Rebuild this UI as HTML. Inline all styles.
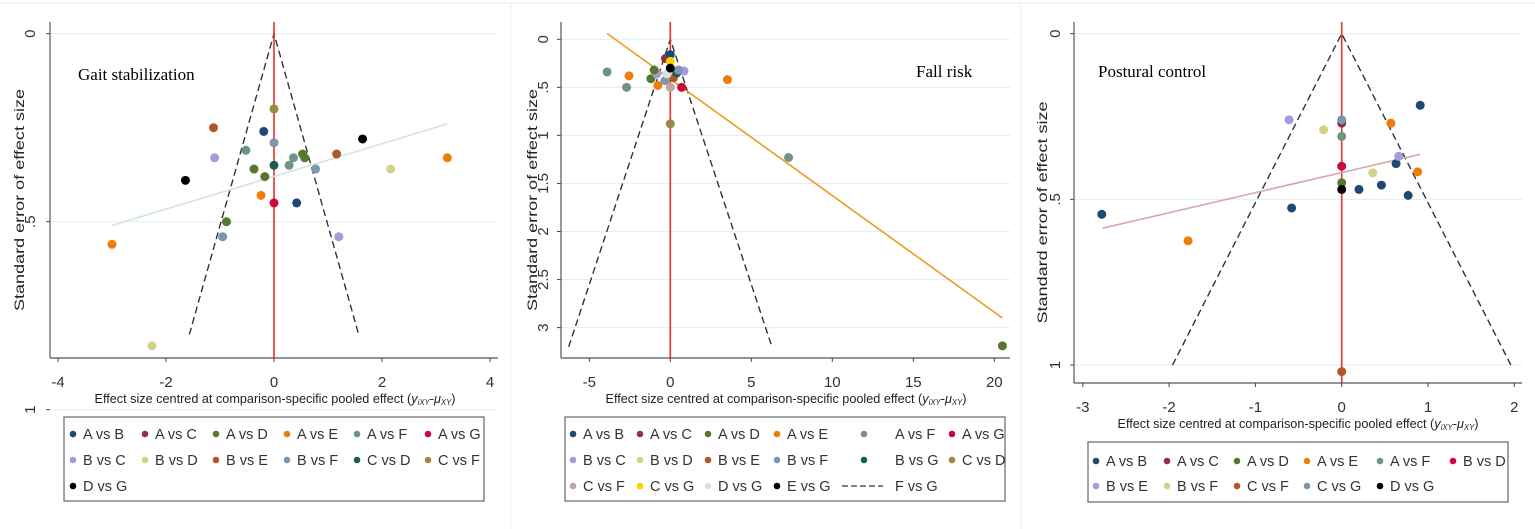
<!DOCTYPE html>
<html><head><meta charset="utf-8"><style>
body{margin:0;background:#fff;width:1535px;height:529px;overflow:hidden;font-family:"Liberation Sans",sans-serif}
svg{display:block}
</style></head><body>
<svg id="fig" width="1535" height="529" xmlns="http://www.w3.org/2000/svg"></svg>
<script>
// ---- colours per comparison (per panel legend order) ----
const p1Legend = ["A vs B","A vs C","A vs D","A vs E","A vs F","A vs G","B vs C","B vs D","B vs E","B vs F","C vs D","C vs F","D vs G"];
const p1Colors = ["#1d4a73","#8e3340","#55782c","#ee7d0c","#6e9486","#cc0a3a","#a49ae0","#d4d088","#b3562a","#7b96ad","#1a5e55","#9b8a43","#000000"];
const p2Legend = ["A vs B","A vs C","A vs D","A vs E","A vs F","A vs G","B vs C","B vs D","B vs E","B vs F","B vs G","C vs D","C vs F","C vs G","D vs G","E vs G","F vs G"];
const p2Colors = ["#1d4a73","#8e3340","#55782c","#ee7d0c","#6e9486","#cc0a3a","#a49ae0","#d4d088","#b3562a","#7b96ad","#1a5e55","#9b8a43","#c4a49e","#ffd000","#d4e2ec","#000000","#333333"];
const p3Legend = ["A vs B","A vs C","A vs D","A vs E","A vs F","B vs D","B vs E","B vs F","C vs F","C vs G","D vs G"];
const p3Colors = ["#1d4a73","#8e3340","#55782c","#ee7d0c","#6e9486","#cc0a3a","#a49ae0","#d4d088","#b3562a","#7b96ad","#000000"];

// ---- Panel 1: Gait stabilization ----
const p1Groups = ["B vs E","A vs B","C vs F","B vs F","A vs F","B vs C","A vs D","A vs D","A vs F","A vs F","C vs D","B vs E","D vs G","D vs G","B vs D","B vs D","A vs E","A vs E","A vs E","B vs F","B vs F","A vs D","A vs D","A vs D","A vs G","A vs B","B vs C"];
const p1X = [-1.12,-0.19,0,0,-0.52,-1.1,0.53,0.57,0.36,0.28,0,1.16,1.64,-1.64,2.16,-2.26,3.21,-0.24,-3.0,0.77,-0.95,-0.37,-0.17,-0.88,0,0.42,1.2];
const p1Y = [0.25,0.26,0.20,0.29,0.31,0.33,0.32,0.33,0.33,0.35,0.35,0.32,0.28,0.39,0.36,0.83,0.33,0.43,0.56,0.36,0.54,0.36,0.38,0.50,0.45,0.45,0.54];
const p1XTicks = [-4,-2,0,2,4];
const p1YTicks = [0,0.5,1];
const p1YLabels = ["0",".5","1"];
const p1Fit = [[-3.0,0.51],[3.21,0.24]];

// ---- Panel 2: Fall risk ----
const p2Groups = ["A vs F","A vs E","A vs F","A vs D","A vs E","A vs E","A vs F","A vs D","C vs D","A vs G","B vs C","A vs C","B vs C","A vs D","B vs E","B vs F","D vs G","C vs F","B vs G","B vs F","A vs B","C vs G","E vs G"];
const p2X = [-3.9,-2.55,-2.7,-1.2,-0.77,3.53,7.3,20.5,0,0.7,0.84,-0.3,-0.84,-1.0,0.2,-0.33,-0.2,0,0.4,0.5,0,0,0];
const p2Y = [0.34,0.38,0.50,0.41,0.48,0.42,1.23,3.19,0.88,0.50,0.33,0.20,0.36,0.32,0.40,0.43,0.36,0.50,0.35,0.32,0.16,0.23,0.30];
const p2XTicks = [-5,0,5,10,15,20];
const p2YTicks = [0,0.5,1,1.5,2,2.5,3];
const p2YLabels = ["0",".5","1","1.5","2","2.5","3"];
const p2Fit = [[-3.9,-0.06],[20.5,2.9]];

// ---- Panel 3: Postural control ----
const p3Groups = ["A vs B","A vs B","A vs B","A vs B","A vs B","A vs B","A vs B","A vs E","A vs E","A vs E","B vs E","B vs E","B vs F","B vs F","A vs C","C vs G","A vs F","B vs D","A vs D","D vs G","C vs F"];
const p3X = [-2.78,-0.58,0.91,0.2,0.46,0.77,0.63,-1.78,0.57,0.88,-0.61,0.66,-0.21,0.36,0,0,0,0,0,0,0];
const p3Y = [0.545,0.526,0.216,0.47,0.457,0.488,0.392,0.625,0.27,0.417,0.26,0.37,0.29,0.42,0.27,0.26,0.31,0.40,0.45,0.47,1.02];
const p3XTicks = [-3,-2,-1,0,1,2];
const p3YTicks = [0,0.5,1];
const p3YLabels = ["0",".5","1"];
const p3Fit = [[-2.77,0.587],[0.91,0.364]];

const NS="http://www.w3.org/2000/svg";
const svg=document.getElementById('fig');
function mk(tag,attrs,parent,text){const e=document.createElementNS(NS,tag);for(const k in attrs)e.setAttribute(k,attrs[k]);if(text!==undefined)e.textContent=text;(parent||svg).appendChild(e);return e;}

const panels=[
 {name:"gait-stabilization",title:"Gait stabilization",groups:p1Groups,xs:p1X,ys:p1Y,xt:p1XTicks,yt:p1YTicks,yl:p1YLabels,fit:p1Fit,fitColor:"#cfe3ea",legend:p1Legend,colors:p1Colors,
  L:50,R:498,B:358,T:22,x0:274,xu:54,y0:33.7,yu:376,funnelSe:0.8,yLabX:35,xLabY:387,xTitleY:403,xTitleX:275,yTitleX:24,
  titleX:78,titleY:80,lg:{x:64,y:417,w:420,h:84,rows:[434,460,486],cols:[73,145,216,287,357,428],tx:[83,155,226,297,367,438]}},
 {name:"fall-risk",title:"Fall risk",groups:p2Groups,xs:p2X,ys:p2Y,xt:p2XTicks,yt:p2YTicks,yl:p2YLabels,fit:p2Fit,fitColor:"#ee9a20",legend:p2Legend,colors:p2Colors,
  L:561,R:1010,B:358,T:22,x0:670.3,xu:16.2,y0:39.3,yu:96.1,funnelSe:3.2,yLabX:548,xLabY:387,xTitleY:403,xTitleX:786,yTitleX:537,
  titleX:916,titleY:77,lg:{x:565,y:417,w:440,h:84,rows:[434,460,486],cols:[573,640,708,777,864,952],tx:[583,650,718,787,895,962]}},
 {name:"postural-control",title:"Postural control",groups:p3Groups,xs:p3X,ys:p3Y,xt:p3XTicks,yt:p3YTicks,yl:p3YLabels,fit:p3Fit,fitColor:"#d4a8a8",legend:p3Legend,colors:p3Colors,
  L:1074,R:1522,B:383,T:22,x0:1341.7,xu:86.3,y0:33.7,yu:331.3,funnelSe:1.0,yLabX:1060,xLabY:412,xTitleY:428,xTitleX:1298,yTitleX:1047,
  titleX:1098,titleY:77,lg:{x:1088,y:442,w:420,h:60,rows:[461,486],cols:[1096,1167,1237,1307,1380,1453],tx:[1106,1177,1247,1317,1390,1463]}}
];

mk('line',{x1:0,y1:3,x2:1535,y2:3,stroke:"#e4e8ea","stroke-width":1,});
mk('line',{x1:511,y1:3,x2:511,y2:529,stroke:"#eceff0","stroke-width":1,});
mk('line',{x1:1021,y1:3,x2:1021,y2:529,stroke:"#eceff0","stroke-width":1,});

panels.forEach((p,pi)=>{
  const g=mk('g',{});
  
  
  const X=v=>p.x0+v*p.xu, Y=v=>p.y0+v*p.yu;
  const col=name=>p.colors[p.legend.indexOf(name)];
  p.yt.forEach((t,i)=>{
    const gl=mk('line',{x1:p.L,x2:p.R,y1:Y(t),y2:Y(t),stroke:"#e6f0f2","stroke-width":1.2},g);
    
    
    const tk=mk('line',{x1:p.L-4,x2:p.L,y1:Y(t),y2:Y(t),stroke:"#444","stroke-width":1},g);
    
    
    const tl=mk('text',{x:p.yLabX,y:Y(t),'font-size':15,fill:"#333",'text-anchor':'middle',transform:`rotate(-90 ${p.yLabX} ${Y(t)})`},g,p.yl[i]);
    
    
  });
  const ya=mk('line',{x1:p.L,x2:p.L,y1:p.T,y2:p.B,stroke:"#555","stroke-width":1.2},g);
  
  const xa=mk('line',{x1:p.L,x2:p.R,y1:p.B,y2:p.B,stroke:"#555","stroke-width":1.2},g);
  
  p.xt.forEach(t=>{
    const tk=mk('line',{x1:X(t),x2:X(t),y1:p.B,y2:p.B+4,stroke:"#444","stroke-width":1},g);
    
    const tl=mk('text',{x:X(t),y:p.xLabY,'font-size':15,fill:"#333",'text-anchor':'middle'},g,String(t));
    
  });
  const fse=p.funnelSe, fx=1.96*fse;
  const fl=mk('path',{d:`M${X(-fx)} ${Y(fse)} L${X(0)} ${Y(0)} L${X(fx)} ${Y(fse)}`,fill:'none',stroke:'#333','stroke-width':1.4,'stroke-dasharray':'7 4'},g);
  
  const rl=mk('line',{x1:X(0),x2:X(0),y1:p.T,y2:p.B,stroke:'#e8302a','stroke-width':1.6},g);
  
  const ft=mk('line',{x1:X(p.fit[0][0]),y1:Y(p.fit[0][1]),x2:X(p.fit[1][0]),y2:Y(p.fit[1][1]),stroke:p.fitColor,'stroke-width':1.6},g);
  
  p.xs.forEach((v,i)=>{
    const c=mk('circle',{cx:X(v),cy:Y(p.ys[i]),r:4.5,fill:col(p.groups[i])},g);
    
    
  });
  const tt=mk('text',{x:p.titleX,y:p.titleY,'font-size':17,'font-family':'"Liberation Serif",serif',fill:'#000'},g,p.title);
  
  const xt=mk('text',{x:p.xTitleX,y:p.xTitleY,'font-size':13,fill:'#222','text-anchor':'middle',textLength:361,lengthAdjust:'spacingAndGlyphs'},g);
  xt.innerHTML='Effect size centred at comparison-specific pooled effect (<tspan font-style="italic">y</tspan><tspan font-size="8" font-style="italic" dy="2">iXY</tspan><tspan dy="-2">-</tspan><tspan font-style="italic">μ</tspan><tspan font-size="8" font-style="italic" dy="2">XY</tspan><tspan dy="-2">)</tspan>';
  
  const cy=(p.T+p.B)/2+10;
  const yt=mk('text',{x:p.yTitleX,y:cy,'font-size':14,fill:'#222','text-anchor':'middle',transform:`rotate(-90 ${p.yTitleX} ${cy})`,textLength:222,lengthAdjust:'spacingAndGlyphs'},g,'Standard error of effect size');
  
  const lg=p.lg;
  const lb=mk('rect',{x:lg.x,y:lg.y,width:lg.w,height:lg.h,fill:'#fff',stroke:'#666','stroke-width':1.2},g);
  
  p.legend.forEach((name,i)=>{
    const r=Math.floor(i/6), c=i%6;
    const ly=lg.rows[r];
    if(name==="F vs G"){
      const d=mk('line',{x1:842,x2:883,y1:ly,y2:ly,stroke:'#333','stroke-width':1.3,'stroke-dasharray':'6 3'},g);
      
      const t=mk('text',{x:895,y:ly+5,'font-size':14.5,fill:'#333'},g,name);
      
      return;
    }
    const m=mk('circle',{cx:lg.cols[c],cy:ly,r:3.3,fill:col(name)},g);
    
    const t=mk('text',{x:lg.tx[c],y:ly+5,'font-size':14.5,fill:'#333'},g,name);
    
  });
});
</script>
</body></html>
